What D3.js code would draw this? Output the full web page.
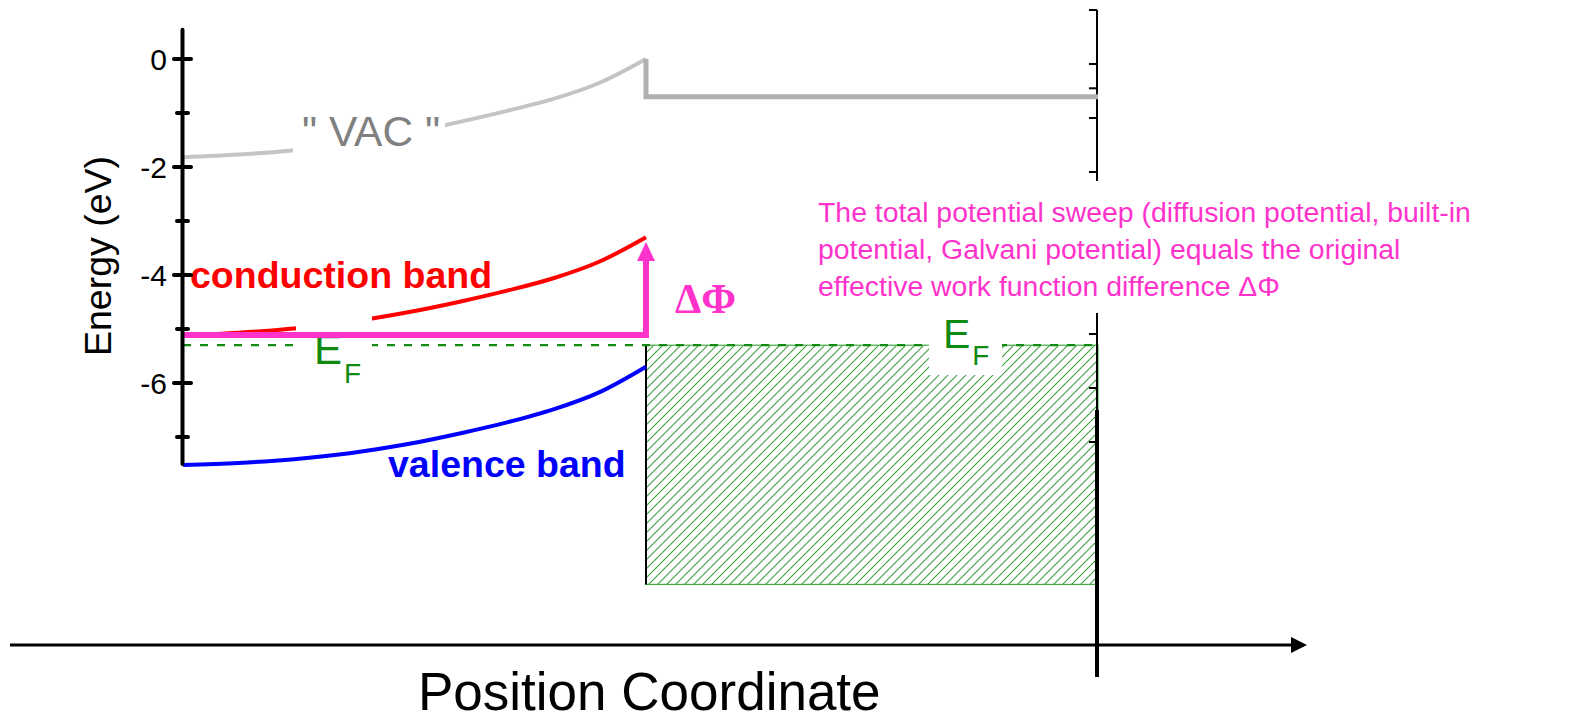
<!DOCTYPE html>
<html><head><meta charset="utf-8">
<script src="https://cdn.jsdelivr.net/npm/d3@7"></script>
<style>body{margin:0;background:#fff}</style>
</head><body><svg id="c" width="1570" height="720"></svg>
<script>
// ---------- data ----------
const positions      = [0, 0.12, 0.24, 0.36, 0.48, 0.6, 0.7, 0.8, 0.9, 1.0];
const vacuumLevel    = [-1.82, -1.77, -1.69, -1.56, -1.38, -1.16, -0.96, -0.74, -0.44, 0.0];
const conductionBand = [-5.12, -5.07, -4.99, -4.87, -4.70, -4.49, -4.29, -4.06, -3.75, -3.30];
const valenceBand    = [-7.52, -7.48, -7.41, -7.30, -7.14, -6.93, -6.73, -6.49, -6.17, -5.70];
const metalRange     = [1, 2];
const metalVacuum    = -0.70;
const fermiLevel     = -5.30;
const metalBottom    = -9.73;
const sweepLevel     = -5.11;
const arrowTop       = -3.39;
const yTicks         = [0, -1, -2, -3, -4, -5, -6, -7];
const yTickLabels    = ["0", "", "-2", "", "-4", "", "-6", ""];
const rightTicks     = [0, 1, 1.45, 2, 3, 4, 5, 6, 7, 8];
const noteLines = [
  "The total potential sweep (diffusion potential, built-in",
  "potential, Galvani potential) equals the original",
  "effective work function difference \u0394\u03A6"
];

// ---------- scales ----------
const svg = d3.select("#c");
svg.append("rect").attr("width",1570).attr("height",720).attr("fill","#fff");
const x = d3.scaleLinear().domain([0, 1, 2]).range([183, 646, 1098]);
const y = d3.scaleLinear().domain([0, -8]).range([59, 491]);
const yR = d3.scaleLinear().domain([0, 8]).range([10, 442]);

const PINK = "#ff33cc", GREEN = "#118a11";
const FONT = "Liberation Sans, Arial, sans-serif";
const line = d3.line().x(d => x(d[0])).y(d => y(d[1])).curve(d3.curveMonotoneX);
const zip = arr => positions.map((p, i) => [p, arr[i]]);

// hatch pattern
const defs = svg.append("defs");
const pat = defs.append("pattern").attr("id","hatch").attr("patternUnits","userSpaceOnUse")
  .attr("width",9).attr("height",9);
pat.append("path").attr("d","M-2,2 L2,-2 M0,9 L9,0 M7,11 L11,7")
  .attr("stroke","#3f9f3f").attr("stroke-width",1.1);

// metal (hatched)
svg.append("rect")
  .attr("x", x(metalRange[0])).attr("y", y(fermiLevel))
  .attr("width", x(metalRange[1]) - x(metalRange[0]))
  .attr("height", y(metalBottom) - y(fermiLevel))
  .attr("fill","url(#hatch)").attr("stroke","#44aa44").attr("stroke-width",1.2);
svg.append("line").attr("x1", x(1)).attr("x2", x(1))
  .attr("y1", y(fermiLevel)).attr("y2", y(metalBottom))
  .attr("stroke","#000").attr("stroke-width",2);

// right axis (partly hidden later by note box)
svg.append("line").attr("x1",1097).attr("x2",1097).attr("y1",yR(0)).attr("y2",yR(8))
  .attr("stroke","#000").attr("stroke-width",2);
svg.selectAll(".rt").data(rightTicks).enter().append("line")
  .attr("x1",1089).attr("x2",1097).attr("y1",d=>yR(d)).attr("y2",d=>yR(d))
  .attr("stroke","#000").attr("stroke-width",2);

// vacuum level
svg.append("path").datum(zip(vacuumLevel)).attr("d", line)
  .attr("fill","none").attr("stroke","#c4c4c4").attr("stroke-width",4);
svg.append("path")
  .attr("d", d3.line()([[x(1), y(0)], [x(1), y(metalVacuum)], [x(2), y(metalVacuum)]]))
  .attr("fill","none").attr("stroke","#b0b0b0").attr("stroke-width",5);
// VAC label
svg.append("rect").attr("x",293).attr("y",105).attr("width",152).attr("height",55).attr("fill","#fff");
svg.append("text").attr("x",371).attr("y",146).attr("text-anchor","middle")
  .attr("font-family",FONT).attr("font-size",42.5).attr("fill","#808080")
  .text("\" VAC \"");

// bands
svg.append("path").datum(zip(conductionBand)).attr("d", line)
  .attr("fill","none").attr("stroke","#ff0000").attr("stroke-width",4);
svg.append("path").datum(zip(valenceBand)).attr("d", line)
  .attr("fill","none").attr("stroke","#0000ff").attr("stroke-width",4);

// Fermi level dashed
svg.append("line").attr("x1", x(0)).attr("x2", x(2))
  .attr("y1", y(fermiLevel)).attr("y2", y(fermiLevel))
  .attr("stroke", GREEN).attr("stroke-width",2.2).attr("stroke-dasharray","8,9");

// left E_F label
svg.append("rect").attr("x",296).attr("y",313).attr("width",76).attr("height",85).attr("fill","#fff");
const ef1 = svg.append("text").attr("x",314).attr("y",364)
  .attr("font-family",FONT).attr("font-size",42).attr("fill",GREEN);
ef1.append("tspan").text("E");
ef1.append("tspan").attr("font-size",28).attr("dx",2).attr("dy",19).text("F");

// pink sweep line + arrow
svg.append("path")
  .attr("d", d3.line()([[x(0), y(sweepLevel)], [x(1), y(sweepLevel)], [x(1), y(arrowTop) + 16]]))
  .attr("fill","none").attr("stroke",PINK).attr("stroke-width",6).attr("stroke-linejoin","miter");
svg.append("path")
  .attr("d", `M${x(1)},${y(arrowTop)} L${x(1)-9},${y(arrowTop)+19} L${x(1)+9},${y(arrowTop)+19} Z`)
  .attr("fill",PINK);
svg.append("text").attr("x",675).attr("y",313)
  .attr("font-family","Liberation Serif, Times New Roman, serif").attr("font-weight","bold")
  .attr("font-size",42).attr("fill",PINK)
  .text("\u0394\u03A6");

// right E_F label
svg.append("rect").attr("x",929).attr("y",312).attr("width",73).attr("height",63).attr("fill","#fff");
const ef2 = svg.append("text").attr("x",943).attr("y",348)
  .attr("font-family",FONT).attr("font-size",41).attr("fill",GREEN);
ef2.append("tspan").text("E");
ef2.append("tspan").attr("font-size",28).attr("dx",2).attr("dy",17).text("F");

// note
svg.append("rect").attr("x",810).attr("y",181).attr("width",680).attr("height",132).attr("fill","#fff");
svg.append("g").selectAll("text").data(noteLines).enter().append("text")
  .attr("x",818).attr("y",(d,i)=>222 + i*37)
  .attr("font-family",FONT).attr("font-size",28.4).attr("fill",PINK)
  .text(d=>d);

// band labels
svg.append("text").attr("x",190).attr("y",288)
  .attr("font-family",FONT).attr("font-weight","bold").attr("font-size",37.5)
  .attr("fill","#ff0000").text("conduction band");
svg.append("text").attr("x",388).attr("y",477)
  .attr("font-family",FONT).attr("font-weight","bold").attr("font-size",37.5)
  .attr("fill","#0000ff").text("valence band");

// thick right line
svg.append("line").attr("x1",1097).attr("x2",1097).attr("y1",410).attr("y2",677)
  .attr("stroke","#000").attr("stroke-width",4);

// left axis
const ax = svg.append("g");
ax.append("line").attr("x1",182.5).attr("x2",182.5).attr("y1",y(0.54)).attr("y2",y(-7.5))
  .attr("stroke","#000").attr("stroke-width",4).attr("stroke-linecap","round");
ax.selectAll(".tk").data(yTicks).enter().append("line")
  .attr("x1",(d,i)=> yTickLabels[i] ? 174 : 177)
  .attr("x2",(d,i)=> yTickLabels[i] ? 191 : 188)
  .attr("y1",d=>y(d)).attr("y2",d=>y(d))
  .attr("stroke","#000").attr("stroke-width",4).attr("stroke-linecap","round");
ax.selectAll(".tl").data(yTicks).enter().append("text")
  .attr("x",167).attr("y",d=>y(d)).attr("dy","0.36em").attr("text-anchor","end")
  .attr("font-family",FONT).attr("font-size",30).attr("fill","#000")
  .text((d,i)=>yTickLabels[i]);
svg.append("text").attr("transform","translate(111,256) rotate(-90)").attr("text-anchor","middle")
  .attr("font-family",FONT).attr("font-size",37.5).attr("fill","#000")
  .text("Energy (eV)");

// x axis arrow
svg.append("line").attr("x1",10).attr("x2",1292).attr("y1",645).attr("y2",645)
  .attr("stroke","#000").attr("stroke-width",3);
svg.append("path").attr("d","M1307,645 L1291,637 L1291,653 Z").attr("fill","#000");
svg.append("text").attr("x",418).attr("y",710)
  .attr("font-family",FONT).attr("font-size",53).attr("fill","#000")
  .text("Position Coordinate");
</script></body></html>
